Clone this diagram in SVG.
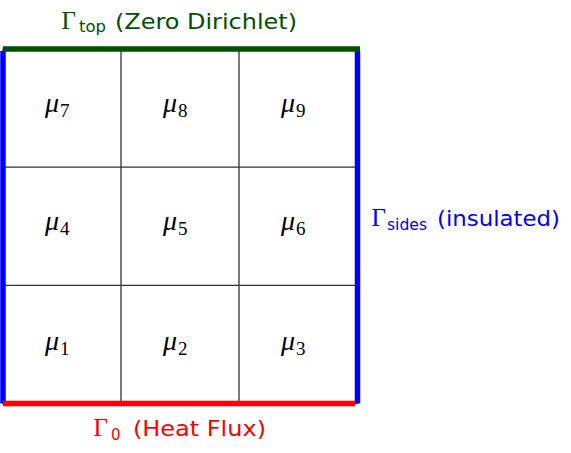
<svg xmlns="http://www.w3.org/2000/svg" width="571" height="453" viewBox="0 0 571 453">
<style>
.grid{stroke:#333;stroke-width:1.3;fill:none}
.mu{font-family:"Liberation Serif",serif;font-style:italic;font-size:28px;fill:#000}
.sub{font-family:"Liberation Serif",serif;font-size:19px;fill:#000}
.gam{font-family:"Liberation Serif",serif;font-size:25px}
.lab{font-family:"DejaVu Sans",sans-serif;font-size:22px}
.lsub{font-family:"DejaVu Sans",sans-serif;font-size:15px}
</style>
<rect width="571" height="453" fill="#fff"/>
<g id="connectors">
<rect class="grid" x="3" y="49" width="354" height="354.5"/>
<line class="grid" x1="121" y1="49" x2="121" y2="403.5"/>
<line class="grid" x1="239" y1="49" x2="239" y2="403.5"/>
<line class="grid" x1="3" y1="167.2" x2="357" y2="167.2"/>
<line class="grid" x1="3" y1="285.3" x2="357" y2="285.3"/>
<line x1="3" y1="51" x2="3" y2="403.5" stroke="#0000ff" stroke-width="5.5"/>
<line x1="357.5" y1="51" x2="357.5" y2="403.5" stroke="#0000ff" stroke-width="5.5"/>
<line x1="3" y1="403.5" x2="355" y2="403.5" stroke="#ff0000" stroke-width="5.5"/>
<line x1="3" y1="49" x2="360" y2="49" stroke="#005000" stroke-width="5.5"/>
</g>
<g id="mu7"><text class="mu" x="45" y="111.5">μ</text><text class="sub" x="60" y="116.5">7</text></g>
<g id="mu8"><text class="mu" x="163" y="111.5">μ</text><text class="sub" x="178" y="116.5">8</text></g>
<g id="mu9"><text class="mu" x="281" y="111.5">μ</text><text class="sub" x="296" y="116.5">9</text></g>
<g id="mu4"><text class="mu" x="45" y="230">μ</text><text class="sub" x="60" y="235">4</text></g>
<g id="mu5"><text class="mu" x="163" y="230">μ</text><text class="sub" x="178" y="235">5</text></g>
<g id="mu6"><text class="mu" x="281" y="230">μ</text><text class="sub" x="296" y="235">6</text></g>
<g id="mu1"><text class="mu" x="45" y="350">μ</text><text class="sub" x="60" y="355">1</text></g>
<g id="mu2"><text class="mu" x="163" y="350">μ</text><text class="sub" x="178" y="355">2</text></g>
<g id="mu3"><text class="mu" x="281" y="350">μ</text><text class="sub" x="296" y="355">3</text></g>
<g id="label-top" fill="#005000">
<text class="gam" x="61.5" y="28.5">Γ</text>
<text class="lsub" x="79" y="32" textLength="27" lengthAdjust="spacingAndGlyphs">top</text>
<text class="lab" x="115" y="28.5" textLength="182" lengthAdjust="spacingAndGlyphs">(Zero Dirichlet)</text>
</g>
<g id="label-sides" fill="#0000ff">
<text class="gam" x="371.5" y="226">Γ</text>
<text class="lsub" x="387" y="229.5" textLength="40" lengthAdjust="spacingAndGlyphs">sides</text>
<text class="lab" x="437" y="226" textLength="123" lengthAdjust="spacingAndGlyphs">(insulated)</text>
</g>
<g id="label-bottom" fill="#ff0000">
<text class="gam" x="93.5" y="436">Γ</text>
<text class="lsub" x="111" y="439.5">0</text>
<text class="lab" x="133" y="436" textLength="133" lengthAdjust="spacingAndGlyphs">(Heat Flux)</text>
</g>
</svg>
